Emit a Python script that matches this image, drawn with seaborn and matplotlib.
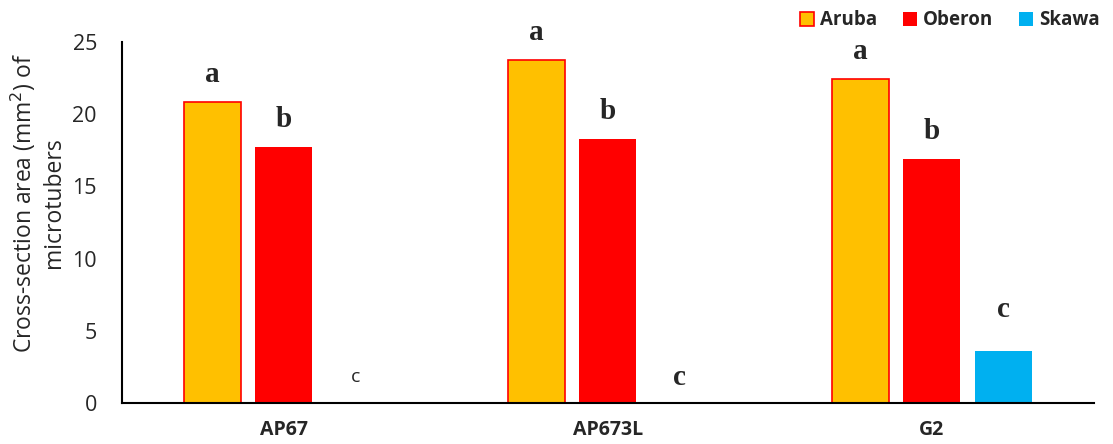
import matplotlib
matplotlib.use("Agg")
import matplotlib.pyplot as plt
import seaborn as sns
import pandas as pd
from matplotlib.patches import Patch

categories = ["AP67", "AP673L", "G2"]
cultivars = ["Aruba", "Oberon", "Skawa"]
aruba = [20.85, 23.75, 22.45]
oberon = [17.7, 18.3, 16.9]
skawa = [0.0, 0.0, 3.6]
letters_aruba = ["a", "a", "a"]
letters_oberon = ["b", "b", "b"]
letters_skawa = ["c", "c", "c"]

colors = {"Aruba": "#FFC000", "Oberon": "#FF0000", "Skawa": "#00B0F0"}

rows = []
for i, c in enumerate(categories):
    rows.append((c, "Aruba", aruba[i]))
    rows.append((c, "Oberon", oberon[i]))
    rows.append((c, "Skawa", skawa[i]))
df = pd.DataFrame(rows, columns=["cat", "cultivar", "value"])

sns.set_style("white")
plt.rcParams["font.family"] = ["Open Sans", "DejaVu Sans"]

fig = plt.figure(figsize=(11.13, 4.44), dpi=100)
ax = fig.add_axes([0.1096, 0.0923, 0.8733, 0.8131])

sns.barplot(data=df, x="cat", y="value", hue="cultivar", hue_order=cultivars,
            order=categories, palette=colors, width=0.66, gap=0.2,
            ax=ax, legend=False, saturation=1)

for cont, name in zip(ax.containers, cultivars):
    for bar in cont:
        if name == "Aruba":
            bar.set_edgecolor("#FF0000")
            bar.set_linewidth(1.2)
        else:
            bar.set_linewidth(0)

ax.set_xlim(-0.5, 2.5)
ax.set_ylim(0, 25)
ax.set_yticks([0, 5, 10, 15, 20, 25])
ax.tick_params(axis="y", labelsize=15.5, length=0, pad=18)
ax.tick_params(axis="x", labelsize=14, length=0, pad=12)
for lab in ax.get_xticklabels():
    lab.set_fontweight("bold")
ax.set_xlabel("")
ax.set_ylabel("Cross-section area (mm$^2$) of\nmicrotubers", fontsize=16.5,
              linespacing=1.2)
ax.yaxis.set_label_coords(-0.058, 0.555)

for s in ["top", "right"]:
    ax.spines[s].set_visible(False)
for s in ["left", "bottom"]:
    ax.spines[s].set_color("black")
    ax.spines[s].set_linewidth(1.5)

for cont, name, letters in zip(ax.containers, cultivars,
                                [letters_aruba, letters_oberon, letters_skawa]):
    for i, bar in enumerate(cont):
        xc = bar.get_x() + bar.get_width() / 2
        h = bar.get_height()
        if name == "Skawa" and i == 0:
            ax.text(xc, 1.8, letters[i], ha="center", va="center",
                    fontsize=14, fontfamily="Open Sans")
        elif name == "Skawa" and h == 0:
            ax.text(xc, 1.8, letters[i], ha="center", va="center",
                    fontsize=21, fontweight="bold", fontfamily="Liberation Serif")
        elif name == "Skawa":
            ax.text(xc, h + 2.9, letters[i], ha="center", va="center",
                    fontsize=21, fontweight="bold", fontfamily="Liberation Serif")
        else:
            ax.text(xc, h + 1.9, letters[i], ha="center", va="center",
                    fontsize=21, fontweight="bold", fontfamily="Liberation Serif")

handles = [Patch(facecolor=colors["Aruba"], edgecolor="#FF0000", linewidth=1.2),
           Patch(facecolor=colors["Oberon"], edgecolor="none"),
           Patch(facecolor=colors["Skawa"], edgecolor="none")]
leg = fig.legend(handles, cultivars, loc="upper right", bbox_to_anchor=(1.003, 1.015),
                 ncol=3, frameon=False, prop={"size": 13.5, "weight": "bold"},
                 handlelength=0.75, handleheight=0.75, handletextpad=0.3, columnspacing=1.4)

fig.savefig("out.png", dpi=100)
